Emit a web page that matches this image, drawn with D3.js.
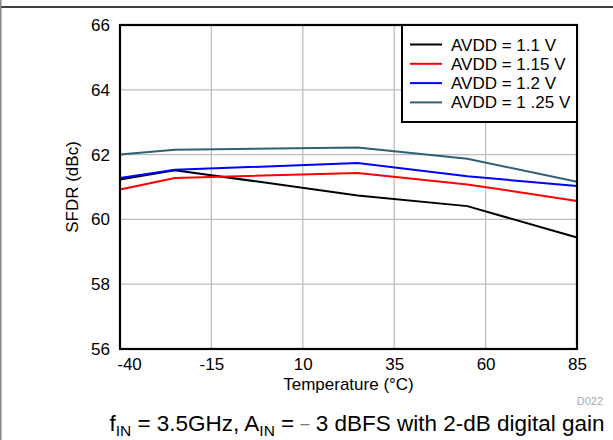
<!DOCTYPE html>
<html><head><meta charset="utf-8">
<script src="https://cdn.jsdelivr.net/npm/d3@7"></script>
<style>body{margin:0;background:#fff}svg{display:block;font-family:"Liberation Sans",Arial,sans-serif}</style>
</head><body>
<script>
const temps = [-40, -25, 25, 55, 85];
const avdd110 = [61.23, 61.52, 60.74, 60.41, 59.44];
const avdd115 = [60.92, 61.28, 61.43, 61.08, 60.57];
const avdd120 = [61.28, 61.53, 61.74, 61.33, 61.03];
const avdd125 = [62.00, 62.15, 62.22, 61.87, 61.16];
const seriesNames = ["AVDD = 1.1 V", "AVDD = 1.15 V", "AVDD = 1.2 V", "AVDD = 1 .25 V"];
const seriesColors = ["#000000", "#ff0000", "#0000ff", "#2f6175"];
const xTicks = [-40, -15, 10, 35, 60, 85];
const yTicks = [56, 58, 60, 62, 64, 66];

const W = 613, H = 440;
const L = 120, R = 577, T = 25, B = 349;
const FONT = "Liberation Sans, Arial, sans-serif";
const svg = d3.select("body").append("svg").attr("width", W).attr("height", H);

// outer frame
svg.append("line").attr("x1",0).attr("x2",W).attr("y1",7).attr("y2",7).attr("stroke","#000").attr("stroke-width",1.5);
svg.append("line").attr("x1",0.75).attr("x2",0.75).attr("y1",0).attr("y2",H).attr("stroke","#888").attr("stroke-width",1.5);

const x = d3.scaleLinear().domain([-40, 85]).range([L, R]);
const y = d3.scaleLinear().domain([56, 66]).range([B, T]);

// grid
svg.append("g").selectAll("line").data(xTicks.slice(1,-1)).join("line")
  .attr("x1", d=>x(d)).attr("x2", d=>x(d)).attr("y1", T).attr("y2", B)
  .attr("stroke", "#bdbdbd").attr("stroke-width", 1.3);
svg.append("g").selectAll("line").data(yTicks.slice(1,-1)).join("line")
  .attr("y1", d=>y(d)).attr("y2", d=>y(d)).attr("x1", L).attr("x2", R)
  .attr("stroke", "#bdbdbd").attr("stroke-width", 1.3);

// axes
const xAxis = svg.append("g").attr("transform", `translate(0,${B})`)
  .call(d3.axisBottom(x).tickValues(xTicks).tickSize(0).tickPadding(9).tickFormat(d=>String(d)));
xAxis.select(".domain").remove();
xAxis.attr("font-size", null).attr("font-family", null);
xAxis.selectAll("text").attr("font-size", 17).attr("fill", "#000").attr("font-family", FONT)
  .attr("dx", (d,i)=> i===0 ? 9 : 0);
const yAxis = svg.append("g").attr("transform", `translate(${L},0)`)
  .call(d3.axisLeft(y).tickValues(yTicks).tickSize(0).tickPadding(10).tickFormat(d=>String(d)));
yAxis.select(".domain").remove();
yAxis.attr("font-size", null).attr("font-family", null);
yAxis.selectAll("text").attr("font-size", 17).attr("fill", "#000").attr("font-family", FONT);

// lines
const allSeries = [avdd110, avdd115, avdd120, avdd125];
const line = d3.line().x((d,i)=>x(temps[i])).y(d=>y(d));
svg.append("g").selectAll("path").data(allSeries).join("path")
  .attr("d", d=>line(d)).attr("fill","none")
  .attr("stroke", (d,i)=>seriesColors[i]).attr("stroke-width", 2);

// plot frame
svg.append("rect").attr("x", L).attr("y", T).attr("width", R-L).attr("height", B-T)
  .attr("fill", "none").attr("stroke", "#000").attr("stroke-width", 2.2);

// legend
const lg = svg.append("g");
lg.append("rect").attr("x", 402).attr("y", T).attr("width", R-402).attr("height", 97)
  .attr("fill", "#fff").attr("stroke", "#000").attr("stroke-width", 2);
seriesNames.forEach((n,i)=>{
  const yy = 44.5 + i*19.3;
  lg.append("line").attr("x1", 410).attr("x2", 442).attr("y1", yy).attr("y2", yy)
    .attr("stroke", seriesColors[i]).attr("stroke-width", 2);
  lg.append("text").attr("x", 451).attr("y", yy + 6).attr("font-size", 17).text(n);
});

// titles
svg.append("text").attr("x", (L+R)/2).attr("y", 390).attr("text-anchor","middle").attr("font-size", 17).text("Temperature (°C)");
svg.append("text").attr("transform", `translate(78,${(T+B)/2}) rotate(-90)`).attr("text-anchor","middle").attr("font-size", 17).text("SFDR (dBc)");
svg.append("text").attr("x", 603).attr("y", 405).attr("text-anchor","end").attr("font-size", 11).attr("fill","#aaa").text("D022");

// footnote
const fn = svg.append("text").attr("x", 357).attr("y", 431).attr("text-anchor","middle").attr("font-size", 22.5);
fn.append("tspan").text("f");
fn.append("tspan").attr("font-size", 15.5).attr("dy", 5).text("IN");
fn.append("tspan").attr("dy", -5).text(" = 3.5GHz, A");
fn.append("tspan").attr("font-size", 15.5).attr("dy", 5).text("IN");
fn.append("tspan").attr("dy", -5).text(" =  ");
fn.append("tspan").attr("fill", "#777").attr("font-size", 16).attr("dy", -2).text("–");
fn.append("tspan").attr("dy", 2).text(" 3 dBFS with 2-dB digital gain");
</script>
</body></html>
